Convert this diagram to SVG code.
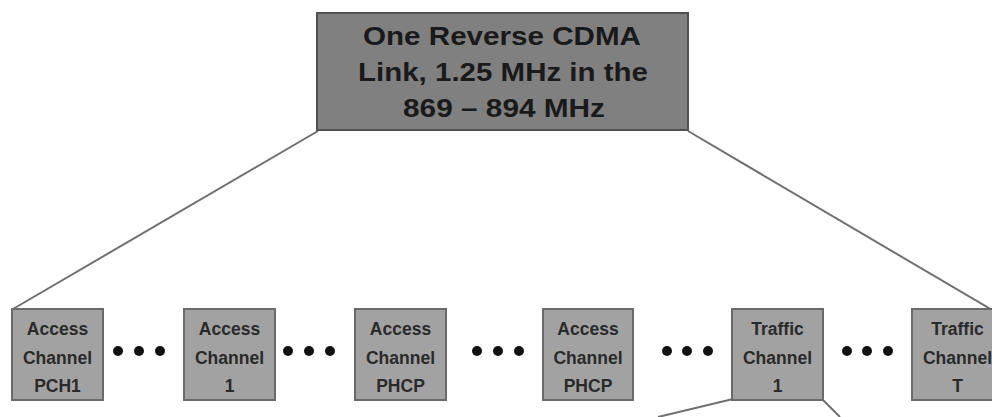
<svg xmlns="http://www.w3.org/2000/svg" width="992" height="417" viewBox="0 0 992 417">
<style>
.top{fill:#808080;stroke:#505050;stroke-width:2}
.box{fill:#a2a2a2;stroke:#6a6a6a;stroke-width:2}
.tt{font-family:"Liberation Sans",Arial,sans-serif;font-weight:bold;font-size:26px;fill:#1a1a1a;text-anchor:middle}
.st{font-family:"Liberation Sans",Arial,sans-serif;font-weight:bold;font-size:17.5px;fill:#2a2a2a;text-anchor:middle}
.ln{stroke:#707070;stroke-width:2;fill:none}
.dot{fill:#111}
</style>
<rect width="992" height="417" fill="#fff"/>
<g id="connectors">
<line class="ln" x1="318" y1="131" x2="13" y2="309"/>
<line class="ln" x1="688" y1="131" x2="992" y2="310"/>
<line class="ln" x1="733" y1="399" x2="658" y2="417"/>
<line class="ln" x1="822" y1="399" x2="840" y2="417"/>
</g>
<g id="n-top">
<rect class="top" x="317" y="13" width="371" height="117"/>
<text class="tt" x="502" y="45" textLength="278" lengthAdjust="spacingAndGlyphs">One Reverse CDMA</text>
<text class="tt" x="503" y="81" textLength="290" lengthAdjust="spacingAndGlyphs">Link, 1.25 MHz in the</text>
<text class="tt" x="504" y="117" textLength="202" lengthAdjust="spacingAndGlyphs">869 – 894 MHz</text>
</g>
<g id="n-acc-pch1">
<rect class="box" x="12" y="309" width="91" height="91"/>
<text class="st" x="57.5" y="335">Access</text><text class="st" x="57.5" y="364">Channel</text><text class="st" x="57.5" y="392">PCH1</text>
</g>
<g id="n-acc-1">
<rect class="box" x="184" y="309" width="91" height="91"/>
<text class="st" x="229.5" y="335">Access</text><text class="st" x="229.5" y="364">Channel</text><text class="st" x="229.5" y="392">1</text>
</g>
<g id="n-acc-phcp-a">
<rect class="box" x="355" y="309" width="91" height="91"/>
<text class="st" x="400.5" y="335">Access</text><text class="st" x="400.5" y="364">Channel</text><text class="st" x="400.5" y="392">PHCP</text>
</g>
<g id="n-acc-phcp-b">
<rect class="box" x="543" y="309" width="90" height="91"/>
<text class="st" x="588" y="335">Access</text><text class="st" x="588" y="364">Channel</text><text class="st" x="588" y="392">PHCP</text>
</g>
<g id="n-traffic-1">
<rect class="box" x="732" y="309" width="91" height="91"/>
<text class="st" x="777.5" y="335">Traffic</text><text class="st" x="777.5" y="364">Channel</text><text class="st" x="777.5" y="392">1</text>
</g>
<g id="n-traffic-t">
<rect class="box" x="912" y="309" width="91" height="91"/>
<text class="st" x="957.5" y="335">Traffic</text><text class="st" x="957.5" y="364">Channel</text><text class="st" x="957.5" y="392">T</text>
</g>
<g id="ellipses">
<circle class="dot" cx="118" cy="351" r="5"/><circle class="dot" cx="139" cy="351" r="5"/><circle class="dot" cx="160" cy="351" r="5"/>
<circle class="dot" cx="288" cy="351" r="5"/><circle class="dot" cx="309" cy="351" r="5"/><circle class="dot" cx="330" cy="351" r="5"/>
<circle class="dot" cx="477" cy="351" r="5"/><circle class="dot" cx="498" cy="351" r="5"/><circle class="dot" cx="519" cy="351" r="5"/>
<circle class="dot" cx="667" cy="351" r="5"/><circle class="dot" cx="687" cy="351" r="5"/><circle class="dot" cx="708" cy="351" r="5"/>
<circle class="dot" cx="847" cy="351" r="5"/><circle class="dot" cx="867" cy="351" r="5"/><circle class="dot" cx="888" cy="351" r="5"/>
</g>
</svg>
